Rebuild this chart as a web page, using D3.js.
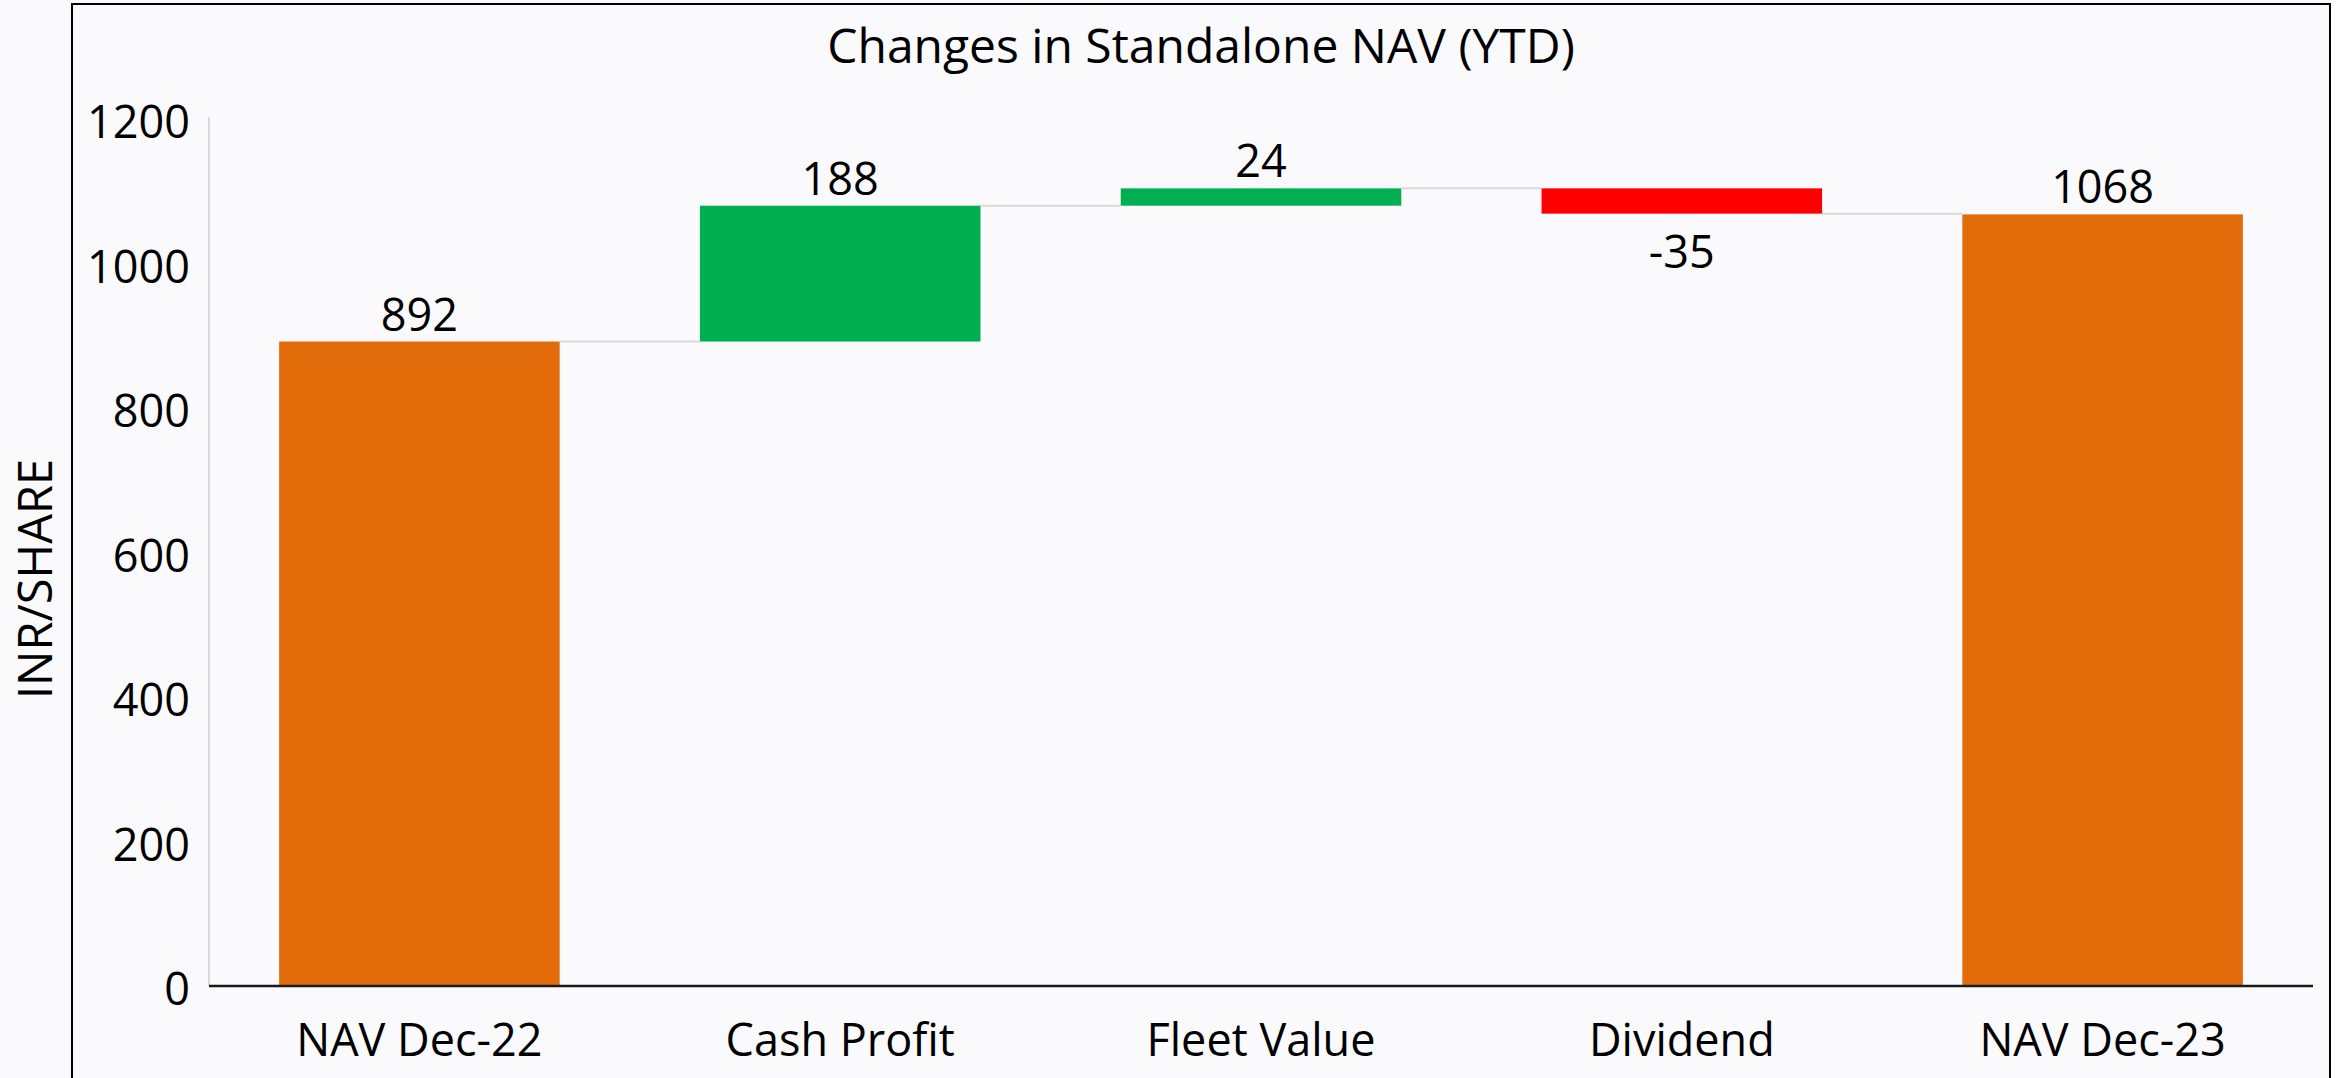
<!DOCTYPE html>
<meta charset="utf-8">
<style>

    body {
        margin: 0;
        background: #fafafc;
    }

    text {
        font-family: "Open Sans", "Noto Sans", sans-serif;
        fill: #000;
    }

    .y-axis path {
        stroke: #d9d9d9;
        stroke-width: 2px;
    }

    .y-axis text {
        font-size: 45px;
    }

    .x-label {
        font-size: 45px;
    }

    .value-label {
        font-size: 45px;
    }

</style>
<svg width="2339" height="1078"></svg>
<script src="https://d3js.org/d3.v7.min.js"></script>
<script>

    // chart data
    var categories = ["NAV Dec-22", "Cash Profit", "Fleet Value", "Dividend", "NAV Dec-23"];
    var values = [892, 188, 24, -35, 1068];
    var kinds = ["total", "increase", "increase", "decrease", "total"];
    var yTicks = [0, 200, 400, 600, 800, 1000, 1200];

    var colors = {total: "#e36c0a", increase: "#00b050", decrease: "#ff0000"};

    var svg = d3.select("svg"),
        width = +svg.attr("width"),
        height = +svg.attr("height");

    // work out where each step starts and ends
    var running = 0;
    var steps = categories.map(function (c, i) {
        var v = values[i], start, end;
        if (kinds[i] === "total") {
            start = 0;
            end = v;
        } else {
            start = running;
            end = running + v;
        }
        running = end;
        return {name: c, value: v, kind: kinds[i], start: start, end: end};
    });

    var x = d3.scaleBand()
        .domain(categories)
        .range([209, 2313])
        .paddingInner(1 / 3)
        .paddingOuter(1 / 6);

    var y = d3.scaleLinear()
        .domain([0, 1200])
        .range([986, 119]);

    // outer frame
    svg.append("rect")
        .attr("x", 2331)
        .attr("y", 0)
        .attr("width", width - 2331)
        .attr("height", height)
        .attr("fill", "#ffffff");

    svg.append("rect")
        .attr("x", 72)
        .attr("y", 4)
        .attr("width", 2258)
        .attr("height", height + 20)
        .attr("fill", "none")
        .attr("stroke", "#000")
        .attr("stroke-width", 2);

    svg.append("text")
        .attr("x", 1201)
        .attr("y", 63)
        .attr("text-anchor", "middle")
        .style("font-size", "48px")
        .text("Changes in Standalone NAV (YTD)");

    svg.append("text")
        .attr("transform", "translate(52," + 579 + ") rotate(-90)")
        .attr("text-anchor", "middle")
        .style("font-size", "47px")
        .text("INR/SHARE");

    // y axis
    var yAxis = svg.append("g")
        .attr("class", "y-axis")
        .attr("transform", "translate(209,0)")
        .call(d3.axisLeft(y).tickValues(yTicks).tickSize(0).tickPadding(19).tickFormat(d3.format("d")));
    yAxis.select(".domain").attr("d", "M0," + (y(1200) - 2) + "V" + y(0));
    yAxis.selectAll(".tick text").attr("dy", "0.42em").attr("fill", "#000");

    // connectors between steps
    svg.append("g")
        .selectAll("line")
        .data(steps.slice(0, -1))
        .enter().append("line")
        .attr("x1", function (d) { return x(d.name) + x.bandwidth(); })
        .attr("x2", function (d, i) { return x(categories[i + 1]); })
        .attr("y1", function (d) { return y(d.end); })
        .attr("y2", function (d) { return y(d.end); })
        .attr("stroke", "#d9d9d9")
        .attr("stroke-width", 2);

    svg.append("g")
        .selectAll("rect")
        .data(steps)
        .enter().append("rect")
        .attr("x", function (d) { return x(d.name); })
        .attr("width", x.bandwidth())
        .attr("y", function (d) { return y(Math.max(d.start, d.end)); })
        .attr("height", function (d) { return Math.abs(y(d.start) - y(d.end)); })
        .attr("fill", function (d) { return colors[d.kind]; });

    // x axis line
    svg.append("line")
        .attr("x1", 209)
        .attr("x2", 2313)
        .attr("y1", y(0))
        .attr("y2", y(0))
        .attr("stroke", "#1a1a1a")
        .attr("stroke-width", 2.5);

    svg.append("g")
        .selectAll("text")
        .data(categories)
        .enter().append("text")
        .attr("class", "x-label")
        .attr("x", function (d) { return x(d) + x.bandwidth() / 2; })
        .attr("y", 1056)
        .attr("text-anchor", "middle")
        .text(function (d) { return d; });

    // value labels
    svg.append("g")
        .selectAll("text")
        .data(steps)
        .enter().append("text")
        .attr("class", "value-label")
        .attr("x", function (d) { return x(d.name) + x.bandwidth() / 2; })
        .attr("y", function (d) {
            return d.value < 0 ? y(d.end) + 54 : y(d.end) - 11;
        })
        .attr("text-anchor", "middle")
        .text(function (d) { return d.value; });

</script>
